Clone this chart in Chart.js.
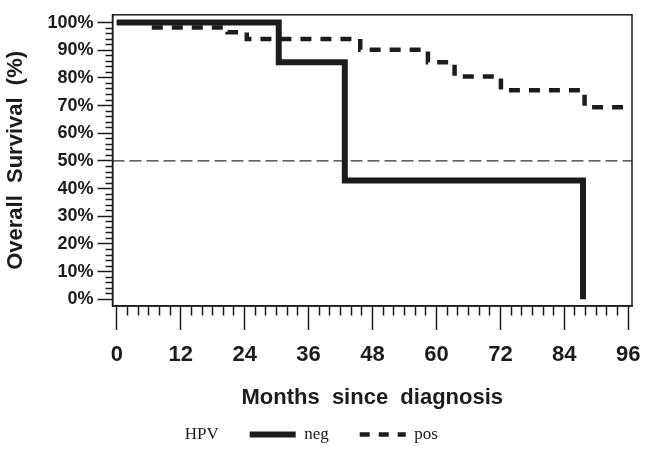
<!DOCTYPE html>
<html>
<head>
<meta charset="utf-8">
<script src="https://cdn.jsdelivr.net/npm/chart.js@4.4.1/dist/chart.umd.min.js"></script>
<style>
  html, body { margin: 0; padding: 0; background: #fff; }
  #wrap { width: 649px; height: 453px; }
</style>
</head>
<body>
<div id="wrap"><canvas id="km"></canvas></div>
<script>
// Kaplan-Meier steps (months, overall survival %)
const negMonths = [0, 30.4, 42.8, 87.5];
const negSurv   = [100, 85.7, 42.9, 0];
const posMonths = [0, 6.5, 20.8, 24.4, 45.7, 58.4, 63.4, 72.1, 87.8, 96.7];
const posSurv   = [100, 98.2, 96.5, 94.1, 90.2, 85.7, 80.5, 75.5, 69.4, 69.4];
const refLevel  = 50;

const groupName   = 'HPV';
const groupLabels = ['neg', 'pos'];
const xTitle = 'Months  since  diagnosis';
const yTitle = 'Overall  Survival  (%)';

const xMin = -0.8, xMax = 96.7;
const yMin = -2.4, yMax = 102.8;

const ink = '#1c1c1c';
const toPts = (xs, ys) => xs.map((x, i) => ({ x: x, y: ys[i] }));

// box around the plot, and nudge legend to the left like the original
const frame = {
  id: 'frame',
  afterLayout(chart) {
    chart.legend.left -= 32;
    chart.legend.right -= 32;
  },
  afterDraw(chart) {
    const a = chart.chartArea, c = chart.ctx;
    c.save();
    c.strokeStyle = ink;
    c.lineWidth = 1.5;
    c.strokeRect(a.left, a.top, a.right - a.left, a.bottom - a.top);
    c.restore();
  }
};

const tickFont = size => ({ family: 'Liberation Sans', weight: 'bold', size: size });

new Chart(document.getElementById('km'), {
  type: 'line',
  data: {
    datasets: [
      {
        label: groupLabels[0],
        data: toPts(negMonths, negSurv),
        stepped: true,
        borderColor: ink,
        borderWidth: 6,
        pointRadius: 0,
        fill: false,
        borderCapStyle: 'butt',
        borderJoinStyle: 'miter',
        order: 1
      },
      {
        label: groupLabels[1],
        data: toPts(posMonths, posSurv),
        stepped: true,
        borderColor: ink,
        borderWidth: 4.5,
        borderDash: [11, 9],
        pointRadius: 0,
        fill: false,
        order: 2
      },
      {
        label: 'ref',
        data: [{ x: xMin, y: refLevel }, { x: xMax, y: refLevel }],
        borderColor: '#333',
        borderWidth: 1.3,
        borderDash: [12, 5],
        pointRadius: 0,
        fill: false,
        order: 3
      }
    ]
  },
  options: {
    responsive: true,
    maintainAspectRatio: false,
    animation: false,
    layout: { padding: { top: 7, right: 17, left: 0, bottom: 0 } },
    scales: {
      x: {
        type: 'linear',
        min: xMin,
        max: xMax,
        afterBuildTicks: s => { s.ticks = s.ticks.filter(t => t.value >= 0 && t.value <= 96); },
        afterFit: s => { s.height = 89; s.paddingLeft = 0; s.paddingRight = 0; },
        ticks: {
          stepSize: 2,
          autoSkip: false,
          includeBounds: false,
          maxRotation: 0,
          padding: 12,
          color: ink,
          font: tickFont(22),
          callback: v => Math.round(v) % 12 === 0 ? Math.round(v) : ''
        },
        grid: {
          drawOnChartArea: false,
          tickLength: 24,
          tickWidth: 1.5,
          tickColor: ink,
          tickBorderDash: ctx => (ctx.tick && Math.round(ctx.tick.value) % 12 === 0) ? [] : [9, 40]
        },
        border: { display: true, color: ink, width: 1.5 },
        title: {
          display: true,
          text: xTitle,
          color: ink,
          font: tickFont(22),
          padding: { top: 0, bottom: -16 }
        }
      },
      y: {
        type: 'linear',
        min: yMin,
        max: yMax,
        afterBuildTicks: s => { s.ticks = s.ticks.filter(t => t.value >= 0 && t.value <= 100); },
        afterFit: s => { s.width = 112.5; },
        ticks: {
          stepSize: 2,
          autoSkip: false,
          includeBounds: false,
          padding: 4,
          color: ink,
          font: tickFont(18),
          callback: v => Math.round(v) % 10 === 0 ? Math.round(v) + '%' : ''
        },
        grid: {
          drawOnChartArea: false,
          tickLength: 15,
          tickWidth: 1.5,
          tickColor: ink,
          tickBorderDash: ctx => (ctx.tick && Math.round(ctx.tick.value) % 10 === 0) ? [] : [0, 8, 7, 40]
        },
        border: { display: true, color: ink, width: 1.5 },
        title: {
          display: true,
          text: yTitle,
          color: ink,
          font: tickFont(22),
          padding: { top: 3, bottom: 0 }
        }
      }
    },
    plugins: {
      tooltip: { enabled: false },
      legend: {
        position: 'bottom',
        labels: {
          usePointStyle: true,
          pointStyleWidth: 46,
          boxWidth: 46,
          padding: 31,
          color: ink,
          font: { family: 'Liberation Serif', size: 17 },
          generateLabels: () => [
            { text: groupName, pointStyle: 'line', strokeStyle: 'rgba(0,0,0,0)', lineWidth: 0, fontColor: ink },
            { text: groupLabels[0], pointStyle: 'line', strokeStyle: ink, lineWidth: 6, lineDash: [], fontColor: ink, datasetIndex: 0 },
            { text: groupLabels[1], pointStyle: 'line', strokeStyle: ink, lineWidth: 4.5, lineDash: [10, 9], fontColor: ink, datasetIndex: 1 }
          ]
        }
      }
    }
  },
  plugins: [frame]
});
</script>
</body>
</html>
